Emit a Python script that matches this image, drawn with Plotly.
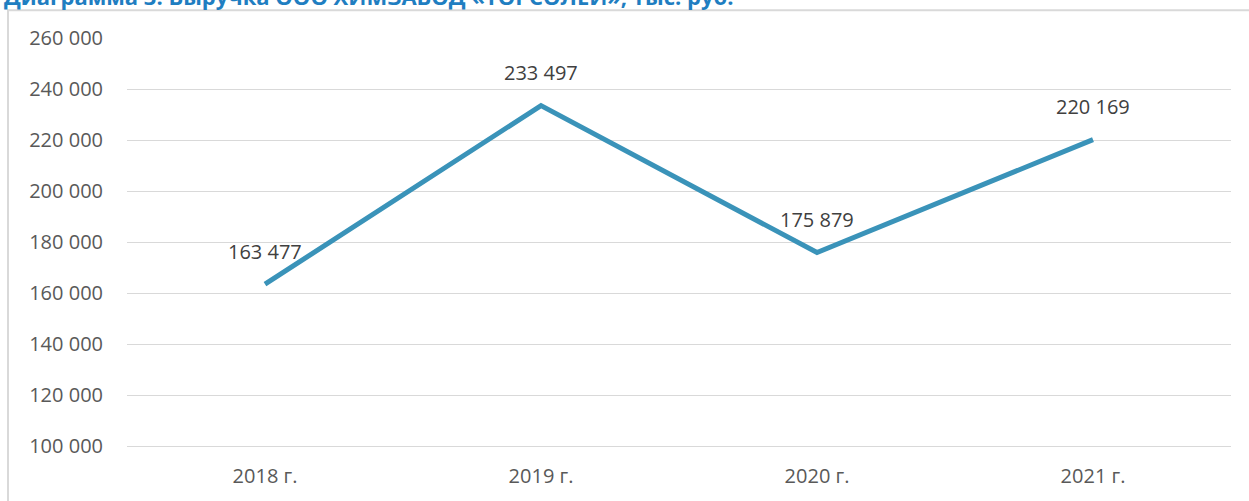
import plotly.graph_objects as go

years = ["2018 г.", "2019 г.", "2020 г.", "2021 г."]
revenue = [163477, 233497, 175879, 220169]
labels = ["163 477", "233 497", "175 879", "220 169"]
tick_vals = [100000, 120000, 140000, 160000, 180000, 200000, 220000, 240000, 260000]
tick_text = ["100 000", "120 000", "140 000", "160 000", "180 000", "200 000", "220 000", "240 000", "260 000"]
title = "Диаграмма 3. Выручка ООО ХИМЗАВОД «ТОРСОЛЕЙ», тыс. руб."

FONT = "Open Sans, Liberation Sans, sans-serif"
W, H = 1249, 501
ML, MR, MT, MB = 127, 18, 38, 50
PW, PH = W - ML - MR, H - MT - MB

fig = go.Figure()
fig.add_trace(go.Scatter(
    x=list(range(len(years))), y=revenue, mode="lines",
    line=dict(color="#3A93B9", width=5), hoverinfo="skip", showlegend=False))

for i, (v, t) in enumerate(zip(revenue, labels)):
    fig.add_annotation(x=i, y=v, text=t, showarrow=False, yshift=33,
                       font=dict(family=FONT, size=20, color="#404040"))

fig.add_annotation(xref="paper", yref="paper", x=(2 - ML) / PW, y=1, xanchor="left",
                   yanchor="bottom", yshift=MT - 13, text="<b>" + title + "</b>",
                   showarrow=False, font=dict(family=FONT, size=22, color="#1F7EC1"))

fig.add_shape(type="rect", xref="paper", yref="paper",
              x0=(8 - ML) / PW, x1=1.2, y0=-0.3, y1=1 + (MT - 10) / PH,
              line=dict(color="#D9D9D9", width=2), layer="below")

fig.update_layout(
    width=W, height=H,
    margin=dict(l=ML, r=MR, t=MT, b=MB),
    paper_bgcolor="white", plot_bgcolor="white",
    font=dict(family=FONT, size=20, color="#595959"),
    xaxis=dict(range=[-0.5, 3.5], tickvals=list(range(len(years))), ticktext=years,
               showgrid=False, zeroline=False, showline=True, linecolor="#D9D9D9",
               linewidth=1, ticks="", ticklabelstandoff=12,
               tickfont=dict(size=20, color="#595959")),
    yaxis=dict(range=[100000, 260000], tickvals=tick_vals, ticktext=tick_text,
               showgrid=True, gridcolor="#D9D9D9", gridwidth=1, zeroline=False,
               showline=False, ticks="", ticklabelstandoff=23,
               tickfont=dict(size=20, color="#595959")),
)

fig.write_html("out.html", config={"displayModeBar": False},
               post_script="document.body.style.margin='0';")
